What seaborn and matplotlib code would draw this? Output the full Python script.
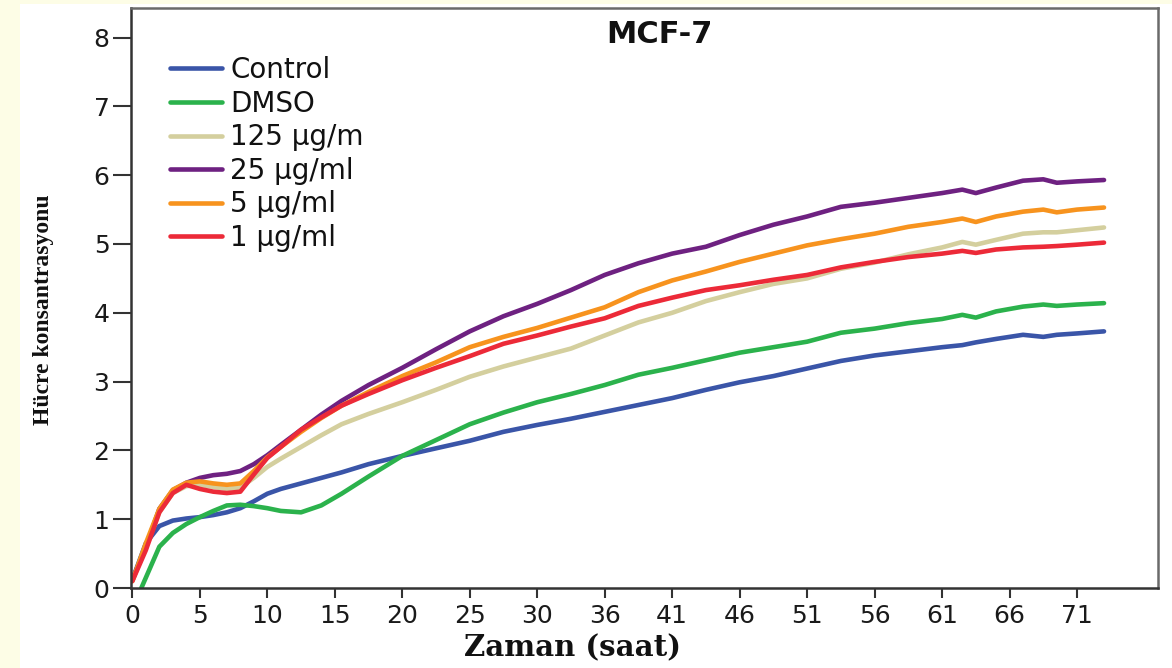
import numpy as np
import pandas as pd
import matplotlib
matplotlib.use("Agg")
import matplotlib.pyplot as plt
import seaborn as sns
from matplotlib.patches import Rectangle

# ---------------- data ----------------
hours = [0, 1, 2, 3, 4, 5, 6, 7, 8, 9, 10, 11, 12.5, 14, 15.5, 17.5, 20, 22.5, 25, 27.5,
         30, 32.5, 35, 37.5, 40, 42.5, 45, 47.5, 50, 52.5, 55, 57.5, 60, 61.5, 62.5, 64,
         66, 67.5, 68.5, 70, 72]

control = [0.12, 0.65, 0.90, 0.98, 1.01, 1.03, 1.06, 1.10, 1.16, 1.26, 1.37, 1.44, 1.52, 1.60,
           1.68, 1.80, 1.92, 2.03, 2.14, 2.27, 2.37, 2.46, 2.56, 2.66, 2.76, 2.88, 2.99, 3.08,
           3.19, 3.30, 3.38, 3.44, 3.50, 3.53, 3.57, 3.62, 3.68, 3.65, 3.68, 3.70, 3.73]

dmso = [-0.30, 0.15, 0.60, 0.80, 0.93, 1.03, 1.12, 1.20, 1.21, 1.19, 1.16, 1.12, 1.10, 1.20,
        1.37, 1.62, 1.92, 2.15, 2.38, 2.55, 2.70, 2.82, 2.95, 3.10, 3.20, 3.31, 3.42, 3.50,
        3.58, 3.71, 3.77, 3.85, 3.91, 3.97, 3.93, 4.02, 4.09, 4.12, 4.10, 4.12, 4.14]

c125 = [0.10, 0.60, 1.10, 1.38, 1.48, 1.50, 1.47, 1.44, 1.46, 1.60, 1.76, 1.88, 2.05, 2.22,
        2.38, 2.53, 2.70, 2.88, 3.07, 3.22, 3.35, 3.48, 3.67, 3.86, 4.00, 4.17, 4.30, 4.42,
        4.50, 4.64, 4.73, 4.85, 4.95, 5.03, 4.99, 5.06, 5.15, 5.17, 5.17, 5.20, 5.24]

c25 = [0.12, 0.60, 1.15, 1.42, 1.53, 1.60, 1.64, 1.66, 1.70, 1.80, 1.93, 2.08, 2.30, 2.52,
       2.72, 2.95, 3.20, 3.47, 3.73, 3.95, 4.13, 4.33, 4.55, 4.72, 4.86, 4.96, 5.13, 5.28,
       5.40, 5.54, 5.60, 5.67, 5.74, 5.79, 5.74, 5.82, 5.92, 5.94, 5.89, 5.91, 5.93]

c5 = [0.10, 0.65, 1.15, 1.43, 1.53, 1.55, 1.52, 1.50, 1.52, 1.70, 1.90, 2.05, 2.27, 2.47,
      2.65, 2.85, 3.08, 3.28, 3.50, 3.65, 3.78, 3.93, 4.08, 4.30, 4.47, 4.60, 4.74, 4.86,
      4.98, 5.07, 5.15, 5.25, 5.32, 5.37, 5.32, 5.40, 5.47, 5.50, 5.46, 5.50, 5.53]

c1 = [0.10, 0.55, 1.10, 1.38, 1.50, 1.44, 1.40, 1.38, 1.40, 1.65, 1.89, 2.05, 2.30, 2.48,
      2.65, 2.82, 3.02, 3.20, 3.37, 3.55, 3.67, 3.80, 3.92, 4.10, 4.22, 4.33, 4.40, 4.48,
      4.55, 4.66, 4.74, 4.81, 4.86, 4.90, 4.87, 4.92, 4.95, 4.96, 4.97, 4.99, 5.02]

series_names = ["Control", "DMSO", "125 µg/m", "25 µg/ml", "5 µg/ml", "1 µg/ml"]
series_values = [control, dmso, c125, c25, c5, c1]
colors = ["#3a55a8", "#2bb24c", "#d4cf9e", "#6e2181", "#f7931e", "#ec2a38"]

xtick_pos = [0, 5, 10, 15, 20, 25, 30, 35, 40, 45, 50, 55, 60, 65, 70]
xtick_labels = ["0", "5", "10", "15", "20", "25", "30", "36", "41", "46", "51", "56", "61", "66", "71"]
ytick_pos = [0, 1, 2, 3, 4, 5, 6, 7, 8]

title = "MCF-7"
xlabel = "Zaman (saat)"
ylabel = "Hücre konsantrasyonu"

# ---------------- frame ----------------
df = pd.concat([pd.DataFrame({"t": hours, "v": vals, "grp": name})
                for name, vals in zip(series_names, series_values)], ignore_index=True)

sns.set_style("white")
plt.rcParams["font.family"] = ["DejaVu Sans"]

fig = plt.figure(figsize=(11.72, 6.68), dpi=100)
fig.patch.set_facecolor("#fdfde6")
fig.patches.append(Rectangle((20 / 1172, 0), 1, 664 / 668, transform=fig.transFigure,
                             facecolor="white", edgecolor="none", zorder=-10))

ax = fig.add_axes([131 / 1172, 80 / 668, (1158 - 131) / 1172, (588 - 8) / 668])
ax.set_zorder(5)
ax.set_facecolor("white")

sns.lineplot(data=df, x="t", y="v", hue="grp", hue_order=series_names,
             palette=dict(zip(series_names, colors)), sort=False, estimator=None,
             linewidth=3.3, ax=ax, legend=False)

ax.set_xlim(-0.1, 76.0)
ax.set_ylim(0, 8.43)
ax.set_xticks(xtick_pos)
ax.set_xticklabels(xtick_labels)
ax.set_yticks(ytick_pos)
ax.set_xlabel("")
ax.set_ylabel("")
ax.tick_params(axis="both", labelsize=18, width=1.5, color="#333333",
               direction="out", labelcolor="#1a1a1a")
ax.tick_params(axis="x", pad=4, length=7.5, bottom=True)
ax.tick_params(axis="y", pad=2.5, length=13, left=True)

for side in ["left", "bottom"]:
    ax.spines[side].set_color("#333333")
    ax.spines[side].set_linewidth(1.8)
for side in ["top", "right"]:
    ax.spines[side].set_color("#6a6a6a")
    ax.spines[side].set_linewidth(1.8)

ax.text(0.515, 0.955, title, transform=ax.transAxes, ha="center", va="center",
        fontsize=22, fontweight="bold", color="#111111")

handles = [plt.Line2D([], [], color=c, linewidth=3.3) for c in colors]
leg = ax.legend(handles, series_names, loc="upper left", bbox_to_anchor=(0.038, 0.917),
                frameon=False, fontsize=20, handlelength=1.87, handletextpad=0.29,
                labelspacing=0.2, borderpad=0, borderaxespad=0)
for t in leg.get_texts():
    t.set_color("#111111")

fig.text(572 / 1172, 1 - 648 / 668, xlabel, ha="center", va="center",
         fontsize=21, fontweight="bold", family="DejaVu Serif", color="#111111")
fig.text(44 / 1172, 1 - 310 / 668, ylabel, ha="center", va="center", rotation=90,
         fontsize=17, fontweight="bold", family="Liberation Serif", color="#111111")

fig.savefig("out.png", dpi=100, facecolor=fig.get_facecolor())
